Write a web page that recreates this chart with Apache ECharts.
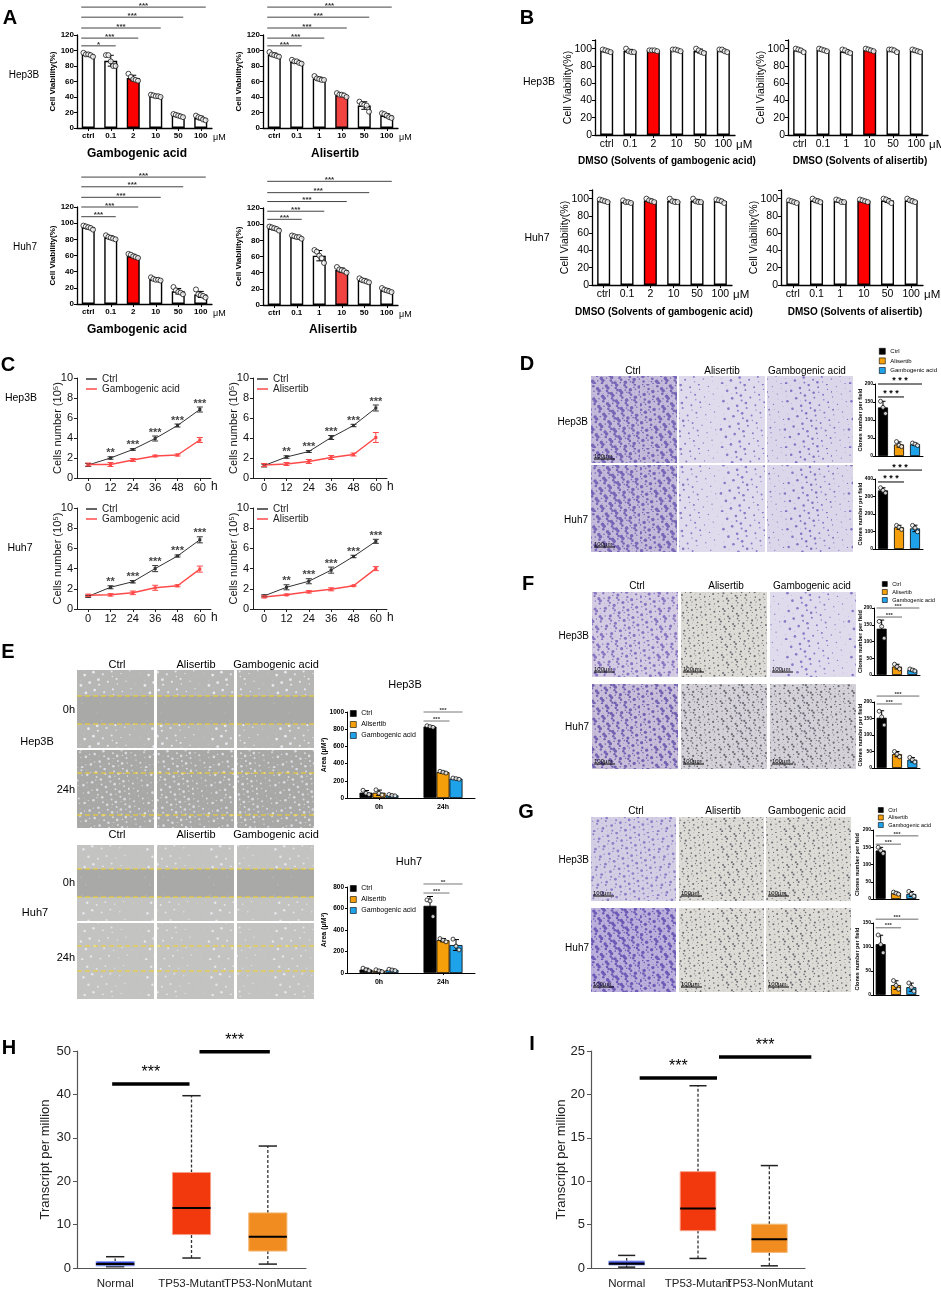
<!DOCTYPE html>
<html>
<head>
<meta charset="utf-8">
<title>Figure</title>
<script src="https://cdn.jsdelivr.net/npm/echarts@6.0.0/dist/echarts.min.js"></script>
<style>
html, body { margin: 0; padding: 0; background: #fff; }
#main { width: 941px; height: 1291px; }
</style>
</head>
<body>
<div id="main"></div>
<script>
// ---- values ----
var doseGA = ['ctrl', '0.1', '2', '10', '50', '100'];
var doseAli = ['ctrl', '0.1', '1', '10', '50', '100'];
var hours = ['0', '12', '24', '36', '48', '60'];
var groups = ['Ctrl', 'Alisertib', 'Gambogenic acid'];
var times = ['0h', '24h'];
var tcgaGroups = ['Normal', 'TP53-Mutant', 'TP53-NonMutant'];

// A: cell viability (%), replicates per dose
var aHep3bGA = [[97, 95, 95, 94, 92], [94, 94, 86, 80, 80], [70, 66, 63, 62, 61], [43, 42, 41, 41, 40], [18, 17, 16, 15, 14], [16, 14, 13, 11, 10]];
var aHep3bAli = [[98, 95, 94, 93, 92], [88, 86, 86, 84, 83], [67, 64, 63, 62, 62], [45, 43, 43, 42, 40], [34, 31, 30, 29, 21], [19, 18, 16, 14, 13]];
var aHuh7GA = [[97, 96, 95, 94, 92], [85, 83, 82, 81, 80], [62, 61, 59, 58, 57], [33, 31, 30, 30, 29], [21, 17, 15, 14, 12], [18, 12, 11, 10, 8]];
var aHuh7Ali = [[97, 96, 95, 94, 92], [86, 85, 84, 84, 82], [68, 66, 61, 58, 52], [47, 44, 43, 42, 40], [33, 31, 30, 29, 28], [21, 19, 18, 17, 16]];
var aSigHep3bGA = ['*', '***', '***', '***', '***'];
var aSigAll = ['***', '***', '***', '***', '***'];
var aLevelsHep3b = [106, 116, 129, 143, 156];
var aLevelsHuh7GA = [108, 120, 132, 145, 157];
var aLevelsHuh7Ali = [106, 116, 128, 139, 153];

// B: DMSO solvent controls (%)
var bHep3bGA = [[99, 98, 97, 96], [100, 97, 96, 96], [98, 98, 98, 97], [99, 99, 98, 97], [100, 98, 96, 95], [99, 99, 97, 96]];
var bHep3bAli = [[100, 99, 98, 96], [100, 99, 98, 97], [99, 98, 96, 95], [100, 99, 98, 97], [99, 99, 98, 96], [99, 98, 97, 96]];
var bHuh7GA = [[99, 98, 97, 96], [98, 96, 96, 95], [100, 98, 97, 96], [100, 97, 96, 96], [100, 97, 96, 96], [99, 98, 97, 95]];
var bHuh7Ali = [[98, 97, 96, 95], [100, 98, 97, 96], [99, 98, 96, 96], [99, 98, 97, 96], [100, 99, 97, 95], [100, 98, 97, 96]];

// C: cell number (10^5) over time, mean and sd
var cHep3bCtrl1 = [1.3, 2.0, 2.85, 3.95, 5.25, 6.85], cHep3bCtrl1Sd = [0.15, 0.12, 0.08, 0.25, 0.15, 0.25];
var cHep3bGA = [1.35, 1.35, 1.8, 2.2, 2.3, 3.8], cHep3bGASd = [0.15, 0.2, 0.15, 0.08, 0.1, 0.25];
var cHep3bCtrl2 = [1.25, 2.1, 2.65, 4.05, 5.25, 7.0], cHep3bCtrl2Sd = [0.15, 0.12, 0.1, 0.2, 0.12, 0.3];
var cHep3bAli = [1.3, 1.4, 1.65, 2.05, 2.35, 4.05], cHep3bAliSd = [0.15, 0.15, 0.2, 0.2, 0.15, 0.5];
var cHuh7Ctrl1 = [1.25, 2.15, 2.7, 4.0, 5.25, 6.85], cHuh7Ctrl1Sd = [0.1, 0.15, 0.12, 0.3, 0.1, 0.3];
var cHuh7GA = [1.35, 1.4, 1.6, 2.1, 2.3, 3.95], cHuh7GASd = [0.12, 0.12, 0.18, 0.25, 0.1, 0.3];
var cHuh7Ctrl2 = [1.3, 2.15, 2.75, 3.85, 5.2, 6.7], cHuh7Ctrl2Sd = [0.1, 0.25, 0.25, 0.3, 0.12, 0.2];
var cHuh7Ali = [1.2, 1.4, 1.7, 1.95, 2.3, 4.0], cHuh7AliSd = [0.1, 0.08, 0.12, 0.15, 0.05, 0.2];
var cSig = ['', '**', '***', '***', '***', '***'];

// D, F, G: clones per field (Ctrl, Alisertib, Gambogenic acid)
var dHep3b = [[152, 135, 118], [40, 30, 26], [36, 33, 29]];
var dHuh7 = [[350, 335, 320], [135, 125, 112], [135, 120, 98]];
var fHep3b = [[160, 145, 110], [32, 25, 18], [18, 15, 12]];
var fHuh7 = [[172, 155, 130], [50, 42, 34], [32, 25, 18]];
var gHep3b = [[150, 140, 132], [20, 17, 14], [22, 14, 8]];
var gHuh7 = [[125, 105, 88], [30, 20, 12], [25, 16, 8]];

// E: wound area (μM²), per group: [0h replicates, 24h replicates]
var eHep3b = [[[90, 55, 40], [840, 830, 822]], [[95, 55, 35], [310, 300, 290]], [[40, 30, 25], [232, 225, 218]]];
var eHuh7 = [[[45, 30, 20], [680, 670, 525]], [[30, 20, 12], [320, 305, 290]], [[35, 28, 22], [315, 250, 215]]];

// H, I: TPM boxplots [min, Q1, median, Q3, max]
var hStats = [[0.3, 0.5, 0.9, 1.5, 2.6], [2.3, 7.7, 13.8, 22.0, 39.7], [0.9, 3.9, 7.2, 12.7, 28.1]];
var iStats = [[0.1, 0.35, 0.5, 0.8, 1.45], [1.1, 4.3, 6.85, 11.1, 21.0], [0.25, 1.8, 3.3, 5.05, 11.8]];

// ---- styles ----
var F = 'Arial, "Liberation Sans", Helvetica, sans-serif';
var groupColors = ['#000000', '#f5a00a', '#1ea3ea'];
var tcgaColors = ['#3542cf', '#f2390e', '#f08c20'];
var tcgaBorders = ['#8fa0f0', '#f7a089', '#f6b878'];

var grid = [], xAxis = [], yAxis = [], series = [], legend = [], graphic = [], brackets = [];

function mean(a) { var s = 0; a.forEach(function (v) { s += v; }); return s / a.length; }
function sd(a) { var m = mean(a), s = 0; a.forEach(function (v) { s += (v - m) * (v - m); }); return Math.sqrt(s / (a.length - 1)); }

function addGrid(b) {
  grid.push({ left: b[0], top: b[1], width: b[2], height: b[3], containLabel: false, outerBoundsMode: 'none' });
  return grid.length - 1;
}

function txt(x, y, s, fs, o) {
  o = o || {};
  graphic.push({ type: 'text', x: x, y: y, silent: true, z: 10, style: {
    text: s, fontSize: fs, fontFamily: F, fontWeight: o.bold ? 'bold' : 'normal',
    fill: o.color || '#000', align: o.align || 'center', verticalAlign: 'middle' } });
}
function seg(x1, y1, x2, y2, color, lw, dash) {
  graphic.push({ type: 'line', silent: true, z: 10, shape: { x1: x1, y1: y1, x2: x2, y2: y2 },
    style: { stroke: color, lineWidth: lw, lineDash: dash || null } });
}

// speckled fill standing in for the micrographs
function texture(base, dot, n, rMax, size) {
  var c = document.createElement('canvas');
  c.width = c.height = size;
  var ctx = c.getContext('2d');
  ctx.fillStyle = base; ctx.fillRect(0, 0, size, size);
  ctx.fillStyle = dot;
  for (var k = 1; k <= n; k++) {
    var x = ((k * 0.7548776662) % 1) * size, y = ((k * 0.5698402910) % 1) * size;
    var r = 0.35 + (k % 4) * rMax / 4;
    ctx.beginPath(); ctx.arc(x, y, r, 0, 7); ctx.fill();
  }
  return c;
}
function photo(x, y, w, h, tex) {
  graphic.push({ type: 'rect', silent: true, z: 1, shape: { x: x, y: y, width: w, height: h },
    style: { fill: { image: tex, repeat: 'repeat' } } });
}

function errSeries(g, data, color, dx, cap) {
  series.push({ type: 'custom', xAxisIndex: g, yAxisIndex: g, silent: true, z: 4,
    encode: { x: 0, y: [1, 2] }, data: data, itemStyle: { color: color },
    renderItem: function (params, api) {
      var lo = api.coord([api.value(0), api.value(1)]);
      var hi = api.coord([api.value(0), api.value(2)]);
      var x = lo[0] + dx, st = { stroke: color, lineWidth: 1 };
      return { type: 'group', children: [
        { type: 'line', shape: { x1: x, y1: lo[1], x2: x, y2: hi[1] }, style: st },
        { type: 'line', shape: { x1: x - cap, y1: hi[1], x2: x + cap, y2: hi[1] }, style: st },
        { type: 'line', shape: { x1: x - cap, y1: lo[1], x2: x + cap, y2: lo[1] }, style: st }
      ] };
    } });
}

function dotSeries(g, reps, dx0, spread, size) {
  var data = [];
  reps.forEach(function (r, i) {
    r.forEach(function (v, j) {
      data.push({ value: [i, v], symbolOffset: [dx0 + (j - (r.length - 1) / 2) * spread, 0] });
    });
  });
  series.push({ type: 'scatter', xAxisIndex: g, yAxisIndex: g, data: data, symbol: 'circle', symbolSize: size,
    silent: true, z: 5, itemStyle: { color: '#fff', borderColor: '#000', borderWidth: 0.9 } });
}

function bracket(g, from, to, y, p, o) {
  brackets.push({ g: g, from: from, to: to, y: y, p: p, o: o });
}

// ---- A and B: viability bars ----
function viability(box, cats, reps, hi, hiColor, st, sig, levels) {
  var g = addGrid(box);
  xAxis.push({ gridIndex: g, type: 'category', data: cats,
    axisLine: { lineStyle: { color: '#000', width: 1.3 } },
    axisTick: { show: true, alignWithLabel: true, length: 3, lineStyle: { color: '#000' } },
    axisLabel: { fontSize: st.fs, fontWeight: st.fw, color: '#000', margin: 4, interval: 0 },
    name: 'μM', nameLocation: 'end', nameGap: 1,
    nameTextStyle: { fontSize: st.fs + 1, color: '#000', verticalAlign: 'top', padding: [st.uPad, 0, 0, 0] } });
  yAxis.push({ gridIndex: g, type: 'value', min: 0, max: st.max, interval: 20,
    axisLine: { show: true, lineStyle: { color: '#000', width: 1.3 } },
    axisTick: { show: true, length: 3, lineStyle: { color: '#000' } }, splitLine: { show: false },
    axisLabel: { fontSize: st.fs, fontWeight: st.fw, color: '#000', margin: 3,
      formatter: function (v) { return v % 20 === 0 ? String(v) : ''; } },
    name: 'Cell Viability(%)', nameLocation: 'middle', nameRotate: 90, nameGap: st.nameGap, nameMoveOverlap: false,
    nameTextStyle: { fontSize: st.nfs, fontWeight: st.fw, color: '#000' } });
  series.push({ type: 'bar', xAxisIndex: g, yAxisIndex: g, barWidth: 13, silent: true, z: 2,
    itemStyle: { color: '#fff', borderColor: '#000', borderWidth: 1.4 },
    data: reps.map(function (r, i) {
      var d = { value: mean(r) };
      if (i === hi) d.itemStyle = { color: hiColor };
      return d;
    }) });
  errSeries(g, reps.map(function (r, i) { return [i, mean(r) - sd(r), mean(r) + sd(r)]; }), '#000', 0, 3);
  dotSeries(g, reps, 0, st.spread, 5);
  if (sig) {
    sig.forEach(function (p, k) {
      bracket(g, 0, k + 1, levels[k], p, { dx1: -7, dx2: 5, color: '#444', lw: 1, fs: 8, gap: 1.5, bold: true });
    });
  }
}
var stA = { fs: 8, nfs: 8, fw: 'bold', max: 120, nameGap: 20, uPad: 5, spread: 2.4 };
var stB = { fs: 10.5, nfs: 10.5, fw: 'normal', max: 110, nameGap: 21, uPad: 4, spread: 2.6 };
viability([77, 35, 135, 93], doseGA, aHep3bGA, 2, '#ff0000', stA, aSigHep3bGA, aLevelsHep3b);
viability([263, 35, 135, 93], doseAli, aHep3bAli, 3, '#f24343', stA, aSigAll, aLevelsHep3b);
viability([77, 207, 135, 97], doseGA, aHuh7GA, 2, '#ff0000', stA, aSigAll, aLevelsHuh7GA);
viability([263, 208, 135, 97], doseAli, aHuh7Ali, 3, '#f24343', stA, aSigAll, aLevelsHuh7Ali);
viability([595, 40, 140, 95], doseGA, bHep3bGA, 2, '#ff0000', stB);
viability([788, 40, 140, 95], doseAli, bHep3bAli, 3, '#ff0000', stB);
viability([592, 190, 140, 95], doseGA, bHuh7GA, 2, '#ff0000', stB);
viability([781, 190, 142, 95], doseAli, bHuh7Ali, 3, '#ff0000', stB);

// ---- C: growth curves ----
function growth(box, ctrl, ctrlSd, trt, trtSd, trtName, legPos) {
  var g = addGrid(box);
  xAxis.push({ gridIndex: g, type: 'category', data: hours,
    axisLine: { lineStyle: { color: '#222', width: 1 } },
    axisTick: { show: true, alignWithLabel: true, length: 3, lineStyle: { color: '#222' } },
    axisLabel: { fontSize: 11, color: '#111', margin: 4, interval: 0 },
    name: 'h', nameLocation: 'end', nameGap: 0,
    nameTextStyle: { fontSize: 12, color: '#111', verticalAlign: 'top', padding: [3, 0, 0, 0] } });
  yAxis.push({ gridIndex: g, type: 'value', min: 0, max: 10, interval: 2,
    axisLine: { show: true, lineStyle: { color: '#222', width: 1 } },
    axisTick: { show: true, length: 3, lineStyle: { color: '#222' } }, splitLine: { show: false },
    axisLabel: { fontSize: 11, color: '#111', margin: 4 },
    name: 'Cells number (10⁵)', nameLocation: 'middle', nameRotate: 90, nameGap: 14, nameMoveOverlap: false,
    nameTextStyle: { fontSize: 11, color: '#111' } });
  series.push({ type: 'line', name: 'Ctrl', xAxisIndex: g, yAxisIndex: g, data: ctrl, symbol: 'rect', symbolSize: 3,
    lineStyle: { color: '#333', width: 1 }, itemStyle: { color: '#333' }, silent: true, z: 3 });
  series.push({ type: 'line', name: trtName, xAxisIndex: g, yAxisIndex: g, data: trt, symbol: 'rect', symbolSize: 3,
    lineStyle: { color: '#ff4a4a', width: 1.5 }, itemStyle: { color: '#ff4a4a' }, silent: true, z: 3 });
  errSeries(g, ctrl.map(function (v, i) { return [i, v - ctrlSd[i], v + ctrlSd[i]]; }), '#333', 0, 3);
  errSeries(g, trt.map(function (v, i) { return [i, v - trtSd[i], v + trtSd[i]]; }), '#ff4a4a', 0, 3);
  series.push({ type: 'scatter', xAxisIndex: g, yAxisIndex: g, symbolSize: 0, silent: true, z: 6,
    data: ctrl.map(function (v, i) { return [i, v + ctrlSd[i]]; }),
    label: { show: true, position: 'top', distance: -2, fontSize: 11, color: '#111', fontWeight: 'bold',
      formatter: function (p) { return cSig[p.dataIndex]; } } });
  legend.push({ left: legPos[0], top: legPos[1], orient: 'vertical', itemWidth: 11, itemHeight: 1.5, itemGap: 0,
    icon: 'rect', selectedMode: false, padding: 0,
    textStyle: { fontSize: 10, lineHeight: 10, color: '#222', fontFamily: F },
    data: [{ name: 'Ctrl', icon: 'rect', itemStyle: { color: '#333', borderWidth: 0 } },
      { name: trtName, icon: 'rect', itemStyle: { color: '#ff4a4a', borderWidth: 0 } }] });
}
growth([77, 378, 134, 100], cHep3bCtrl1, cHep3bCtrl1Sd, cHep3bGA, cHep3bGASd, 'Gambogenic acid', [86, 374]);
growth([253, 378, 134, 100], cHep3bCtrl2, cHep3bCtrl2Sd, cHep3bAli, cHep3bAliSd, 'Alisertib', [257, 374]);
growth([77, 508, 134, 101], cHuh7Ctrl1, cHuh7Ctrl1Sd, cHuh7GA, cHuh7GASd, 'Gambogenic acid', [86, 504]);
growth([253, 508, 134, 101], cHuh7Ctrl2, cHuh7Ctrl2Sd, cHuh7Ali, cHuh7AliSd, 'Alisertib', [257, 504]);

// ---- D, F, G: clone counts ----
function clones(box, reps, max, interval, nameGap, sigLevels, sst) {
  var g = addGrid(box);
  xAxis.push({ gridIndex: g, type: 'category', data: groups,
    axisLine: { lineStyle: { color: '#000', width: 1 } }, axisTick: { show: false }, axisLabel: { show: false } });
  yAxis.push({ gridIndex: g, type: 'value', min: 0, max: max, interval: interval,
    axisLine: { show: true, lineStyle: { color: '#000', width: 1 } },
    axisTick: { show: true, length: 2, lineStyle: { color: '#000' } }, splitLine: { show: false },
    axisLabel: { fontSize: 5, color: '#000', margin: 2, fontWeight: 'bold' },
    name: 'Clones number per field', nameLocation: 'middle', nameRotate: 90, nameGap: nameGap, nameMoveOverlap: false,
    nameTextStyle: { fontSize: 5.5, color: '#000', fontWeight: 'bold' } });
  groups.forEach(function (name, k) {
    series.push({ type: 'bar', name: name, xAxisIndex: g, yAxisIndex: g, stack: 'c' + g, barWidth: 10, silent: true, z: 2,
      itemStyle: { color: groupColors[k], borderColor: '#000', borderWidth: 0.8 },
      data: groups.map(function (n, i) { return i === k ? mean(reps[k]) : '-'; }) });
  });
  errSeries(g, reps.map(function (r, i) { return [i, mean(r) - sd(r), mean(r) + sd(r)]; }), '#000', 0, 2.5);
  dotSeries(g, reps, 0, 2.5, 4);
  bracket(g, 0, 1, sigLevels[0], sst.p, { dx1: -5, dx2: 5, color: sst.color, lw: sst.lw, fs: sst.fs, gap: sst.gap, bold: true });
  bracket(g, 0, 2, sigLevels[1], sst.p, { dx1: -5, dx2: 7, color: sst.color, lw: sst.lw, fs: sst.fs, gap: sst.gap, bold: true });
}
function barLegend(left, top, fs, sq, gap) {
  legend.push({ left: left, top: top, orient: 'vertical', itemWidth: sq, itemHeight: sq, itemGap: gap, icon: 'rect',
    selectedMode: false, padding: 0, textStyle: { fontSize: fs, lineHeight: sq, color: '#000', fontFamily: F },
    data: groups.map(function (n, i) {
      return { name: n, icon: 'rect', itemStyle: { color: groupColors[i], borderColor: '#000', borderWidth: 0.6 } };
    }) });
}
var sstD = { p: '* * *', color: '#000', lw: 1, fs: 9, gap: 3 };
var sstS = { p: '***', color: '#444', lw: 0.8, fs: 6, gap: 2 };
clones([875, 384, 48, 72], dHep3b, 200, 50, 12, [164, 200], sstD);
clones([875, 479, 48, 70], dHuh7, 400, 100, 12, [383, 451], sstD);
barLegend(879, 348, 6, 6, 3);
clones([874, 608, 46, 67], fHep3b, 200, 50, 11, [173, 200], sstS);
clones([874, 702, 46, 66], fHuh7, 200, 50, 11, [194, 218], sstS);
barLegend(882, 581, 5.5, 5, 2);
clones([873, 830, 46, 69], gHep3b, 200, 50, 13, [159, 183], sstS);
clones([873, 923, 46, 72], gHuh7, 150, 50, 13, [140, 158], sstS);
barLegend(878, 807, 5.5, 5, 1.5);

// ---- E: scratch area ----
function scratch(box, reps, max, sig) {
  var g = addGrid(box);
  xAxis.push({ gridIndex: g, type: 'category', data: times,
    axisLine: { lineStyle: { color: '#000', width: 1 } },
    axisTick: { show: true, alignWithLabel: true, length: 2, lineStyle: { color: '#000' } },
    axisLabel: { fontSize: 7, fontWeight: 'bold', color: '#000', margin: 6 } });
  yAxis.push({ gridIndex: g, type: 'value', min: 0, max: max, interval: 200,
    axisLine: { show: true, lineStyle: { color: '#000', width: 1 } },
    axisTick: { show: true, length: 2, lineStyle: { color: '#000' } }, splitLine: { show: false },
    axisLabel: { fontSize: 6.5, fontWeight: 'bold', color: '#000', margin: 3, formatter: function (v) { return String(v); } },
    name: 'Area (μM²)', nameLocation: 'middle', nameRotate: 90, nameGap: 19, nameMoveOverlap: false,
    nameTextStyle: { fontSize: 7, fontWeight: 'bold', color: '#000' } });
  var offs = [-13, 0, 13];
  groups.forEach(function (name, k) {
    series.push({ type: 'bar', name: name, xAxisIndex: g, yAxisIndex: g, barWidth: 13, barGap: '0%', silent: true, z: 2,
      itemStyle: { color: groupColors[k], borderColor: '#000', borderWidth: 0.8 },
      data: reps[k].map(function (r) { return mean(r); }) });
    errSeries(g, reps[k].map(function (r, i) { return [i, mean(r) - sd(r), mean(r) + sd(r)]; }), '#000', offs[k], 3);
    dotSeries(g, reps[k], offs[k], 3, 4);
  });
  bracket(g, 1, 1, sig[0][0], sig[0][1], { dx1: -19.5, dx2: 6.5, color: '#555', lw: 0.8, fs: 6, gap: 2, bold: true });
  bracket(g, 1, 1, sig[1][0], sig[1][1], { dx1: -19.5, dx2: 19.5, color: '#555', lw: 0.8, fs: 6, gap: 2, bold: true });
}
scratch([347, 712, 128, 86], eHep3b, 1000, [[895, '***'], [1000, '***']]);
scratch([347, 887, 128, 86], eHuh7, 800, [[744, '***'], [828, '**']]);
[710, 885].forEach(function (top) {
  legend.push({ left: 350, top: top, orient: 'vertical', itemWidth: 6, itemHeight: 6, itemGap: 4, icon: 'rect', selectedMode: false,
    padding: 0, textStyle: { fontSize: 7, lineHeight: 6, color: '#000', fontFamily: F },
    data: groups.map(function (n, i) { return { name: n, icon: 'rect', itemStyle: { color: groupColors[i], borderColor: '#000', borderWidth: 0.6 } }; }) });
});

// ---- H, I: TCGA boxplots ----
function boxRender(params, api) {
  var i = api.value(0);
  var band = api.size([1, 0])[0];
  var p = [1, 2, 3, 4, 5].map(function (d) { return api.coord([i, api.value(d)]); });
  var x = p[0][0], bw = band * 0.5, cw = band * 0.24;
  var dash = { stroke: '#333', lineWidth: 1.3, lineDash: [3, 2] }, solid = { stroke: '#222', lineWidth: 1.5 };
  return { type: 'group', children: [
    { type: 'line', shape: { x1: x, y1: p[0][1], x2: x, y2: p[1][1] }, style: dash },
    { type: 'line', shape: { x1: x, y1: p[3][1], x2: x, y2: p[4][1] }, style: dash },
    { type: 'line', shape: { x1: x - cw / 2, y1: p[0][1], x2: x + cw / 2, y2: p[0][1] }, style: solid },
    { type: 'line', shape: { x1: x - cw / 2, y1: p[4][1], x2: x + cw / 2, y2: p[4][1] }, style: solid },
    { type: 'rect', shape: { x: x - bw / 2, y: p[3][1], width: bw, height: p[1][1] - p[3][1] },
      style: { fill: tcgaColors[i], stroke: tcgaBorders[i], lineWidth: 1 } },
    { type: 'line', shape: { x1: x - bw / 2, y1: p[2][1], x2: x + bw / 2, y2: p[2][1] }, style: { stroke: '#000', lineWidth: 2 } }
  ] };
}
function tcga(box, stats, max, interval, nameGap, sig) {
  var g = addGrid(box);
  xAxis.push({ gridIndex: g, type: 'category', data: tcgaGroups,
    axisLine: { lineStyle: { color: '#555', width: 1.2 } }, axisTick: { show: false },
    axisLabel: { fontSize: 11.5, color: '#222', margin: 10, interval: 0 } });
  yAxis.push({ gridIndex: g, type: 'value', min: 0, max: max, interval: interval,
    axisLine: { show: true, lineStyle: { color: '#555', width: 1.2 } },
    axisTick: { show: true, length: 4, lineStyle: { color: '#555' } }, splitLine: { show: false },
    axisLabel: { fontSize: 13, color: '#222', margin: 6 },
    name: 'Transcript per million', nameLocation: 'middle', nameRotate: 90, nameGap: nameGap, nameMoveOverlap: false,
    nameTextStyle: { fontSize: 13, color: '#222' } });
  series.push({ type: 'custom', xAxisIndex: g, yAxisIndex: g, silent: true, z: 3,
    encode: { x: 0, y: [1, 2, 3, 4, 5] },
    data: stats.map(function (s, i) { return [i].concat(s); }), renderItem: boxRender });
  sig.forEach(function (s) {
    bracket(g, s[0], s[1], s[2], '***', { dx1: s[3], dx2: s[4], color: '#000', lw: 3.5, fs: 16, gap: 11, bold: false });
  });
}
tcga([77, 1051, 229, 217], hStats, 50, 10, 25, [[0, 1, 42.4, -3, -2], [1, 2, 49.8, 8, 2]]);
tcga([591, 1051, 214, 217], iStats, 25, 5, 23, [[0, 1, 21.9, 13, 19], [1, 2, 24.3, 21, 42]]);

// ---- static labels and micrograph placeholders ----
[['A', 10, 18], ['B', 527, 18], ['C', 8, 365], ['D', 527, 364], ['E', 8, 652], ['F', 528, 584],
 ['G', 526, 812], ['H', 9, 1048], ['I', 532, 1044]].forEach(function (l) { txt(l[1], l[2], l[0], 20, { bold: true }); });

txt(24, 75, 'Hep3B', 10); txt(25, 247, 'Huh7', 10);
txt(137, 154, 'Gambogenic acid', 12, { bold: true }); txt(335, 154, 'Alisertib', 12, { bold: true });
txt(137, 330, 'Gambogenic acid', 12, { bold: true }); txt(333, 330, 'Alisertib', 12, { bold: true });
txt(539, 82, 'Hep3B', 10.5); txt(537, 238, 'Huh7', 10.5);
txt(667, 161, 'DMSO (Solvents of gambogenic acid)', 10, { bold: true });
txt(860, 161, 'DMSO (Solvents of alisertib)', 10, { bold: true });
txt(664, 312, 'DMSO (Solvents of gambogenic acid)', 10, { bold: true });
txt(855, 312, 'DMSO (Solvents of alisertib)', 10, { bold: true });
txt(21, 398, 'Hep3B', 10.5); txt(20, 548, 'Huh7', 10.5);

var texDense = texture('#c4bbdb', '#7866b6', 300, 1.9, 64);
var texSparse = texture('#e0dbec', '#8a7ac6', 90, 1.3, 64);
var texSparse2 = texture('#dcd6ea', '#8473c2', 110, 1.2, 64);
var texFCtrl = texture('#d3cce2', '#8775c2', 240, 1.6, 64);
var texFCtrl2 = texture('#c8bed9', '#7262b2', 280, 1.7, 64);
var texSpeck = texture('#dcdbd6', '#6c6c74', 260, 0.9, 64);
var texSpeck2 = texture('#d4d2d8', '#6a6a76', 300, 1.0, 64);
var texGCtrl = texture('#d4cee4', '#9080c8', 200, 1.4, 64);
var texGCtrl2 = texture('#bbb0db', '#6c5ab6', 320, 1.8, 64);
var texScratch = texture('#b6b6b4', '#e6e8ee', 70, 1.4, 64);
var texScratch2 = texture('#a8a9a6', '#d8dadf', 160, 1.3, 64);
var texScratch3 = texture('#c3c3c1', '#e4e6ea', 50, 1.2, 64);
var texBand = texture('#a9a9a8', '#b2b2b2', 20, 1.0, 64);

function scaleBar(x, y) { txt(x, y - 3, '100μm', 6, { align: 'left' }); seg(x, y, x + 21, y, '#000', 1); }

// D
var dCols = [591, 679, 767];
[[376, [texDense, texSparse, texSparse2]], [465, [texDense, texSparse, texSparse2]]].forEach(function (r) {
  dCols.forEach(function (x, k) { photo(x, r[0], 86, 87, r[1][k]); });
});
txt(633, 371, 'Ctrl', 10); txt(722, 371, 'Alisertib', 10); txt(807, 371, 'Gambogenic acid', 10);
txt(588, 422, 'Hep3B', 10, { align: 'right' }); txt(588, 520, 'Huh7', 10, { align: 'right' });
scaleBar(594, 459); scaleBar(594, 547);

// E
var eCols = [77, 157, 237];
function scratchRow(y, h, tex, lines, band) {
  eCols.forEach(function (x) {
    photo(x, y, 77, h, tex);
    if (band) photo(x, lines[0], 77, lines[1] - lines[0], texBand);
    lines.forEach(function (ly) { seg(x, ly, x + 77, ly, '#f4d31c', 1.2, [5, 3]); });
  });
}
scratchRow(670, 78, texScratch, [696, 724], true);
scratchRow(750, 78, texScratch2, [773, 815], false);
scratchRow(845, 76, texScratch3, [869, 897], true);
scratchRow(923, 76, texScratch3, [946, 971], false);
[665, 835].forEach(function (y) { txt(117, y, 'Ctrl', 11); txt(196, y, 'Alisertib', 11); txt(276, y, 'Gambogenic acid', 11); });
txt(75, 710, '0h', 11, { align: 'right' }); txt(37, 742, 'Hep3B', 11); txt(75, 790, '24h', 11, { align: 'right' });
txt(75, 883, '0h', 11, { align: 'right' }); txt(35, 913, 'Huh7', 11); txt(75, 958, '24h', 11, { align: 'right' });
txt(405, 685, 'Hep3B', 11); txt(409, 862, 'Huh7', 11);

// F
var fCols = [592, 681, 770];
[[592, [texFCtrl, texSpeck, texSparse]], [684, [texFCtrl2, texSpeck2, texSpeck2]]].forEach(function (r) {
  fCols.forEach(function (x, k) { photo(x, r[0], 86, 85, r[1][k]); scaleBar(x + 2, r[0] + 80); });
});
txt(637, 586, 'Ctrl', 10); txt(726, 586, 'Alisertib', 10); txt(812, 586, 'Gambogenic acid', 10);
txt(589, 636, 'Hep3B', 10, { align: 'right' }); txt(589, 727, 'Huh7', 10, { align: 'right' });

// G
var gCols = [591, 679, 766];
[[817, [texGCtrl, texSpeck, texSpeck]], [908, [texGCtrl2, texSpeck, texSpeck]]].forEach(function (r) {
  gCols.forEach(function (x, k) { photo(x, r[0], 85, 84, r[1][k]); scaleBar(x + 2, r[0] + 79); });
});
txt(636, 811, 'Ctrl', 10); txt(723, 811, 'Alisertib', 10); txt(807, 811, 'Gambogenic acid', 10);
txt(589, 860, 'Hep3B', 10, { align: 'right' }); txt(589, 948, 'Huh7', 10, { align: 'right' });

// ---- render ----
var chart = echarts.init(document.getElementById('main'), null, { renderer: 'canvas' });
chart.setOption({
  animation: false,
  backgroundColor: '#ffffff',
  textStyle: { fontFamily: F },
  grid: grid, xAxis: xAxis, yAxis: yAxis, legend: legend, series: series
});

// significance brackets placed through the axes' own scales
brackets.forEach(function (b) {
  var a = chart.convertToPixel({ gridIndex: b.g }, [b.from, b.y]);
  var c = chart.convertToPixel({ gridIndex: b.g }, [b.to, b.y]);
  var x1 = a[0] + b.o.dx1, x2 = c[0] + b.o.dx2;
  seg(x1, a[1], x2, a[1], b.o.color, b.o.lw);
  txt((x1 + x2) / 2, a[1] - b.o.gap, b.p, b.o.fs, { bold: b.o.bold, color: b.o.color === '#000' ? '#000' : '#333' });
});
chart.setOption({ graphic: { elements: graphic } });
</script>
</body>
</html>
